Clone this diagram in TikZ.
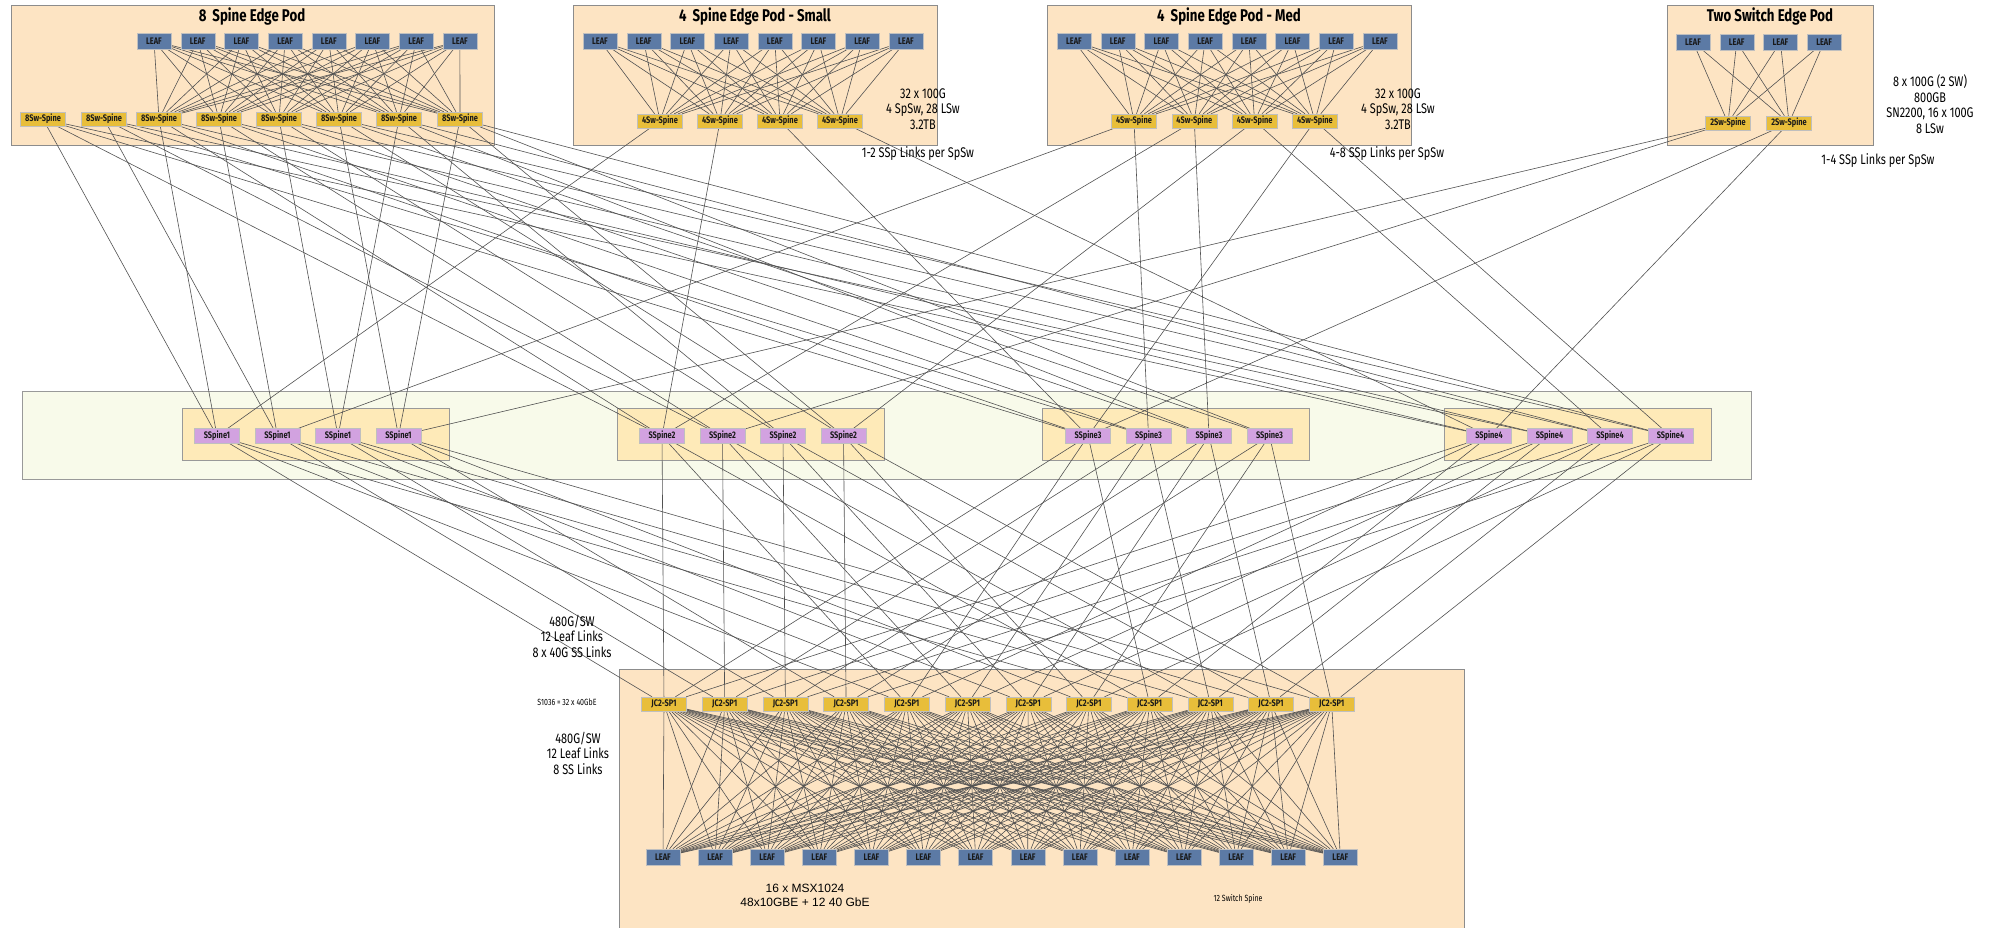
\documentclass[tikz,border=0pt]{standalone}
\usepackage{fontspec}
\setmainfont{Fira Sans}[FakeStretch=0.78]
\newfontfamily\helv{Liberation Sans}
\usetikzlibrary{shadows}
\pgfdeclarelayer{bg}
\pgfdeclarelayer{links}
\pgfsetlayers{bg,links,main}
\definecolor{podfill}{RGB}{253,228,195}
\definecolor{leafblue}{RGB}{92,122,165}
\definecolor{spinegold}{RGB}{232,190,58}
\definecolor{sspurple}{RGB}{210,162,224}
\definecolor{bandfill}{RGB}{248,250,234}
\definecolor{grpfill}{RGB}{254,234,184}
\begin{document}
\begin{tikzpicture}[x=1pt,y=-1pt, every node/.style={font=\footnotesize}]
  \tikzstyle{pod}=[draw=black!45,fill=podfill,line width=0.8pt]
  \tikzstyle{sw}=[draw=black!25,inner sep=1pt,text=black!90,
    drop shadow={shadow xshift=0.8pt,shadow yshift=-0.8pt,opacity=0.3}]
  \tikzstyle{leaf}=[sw,fill=leafblue,minimum width=34pt,minimum height=16pt,font=\fontsize{9.5}{10}\selectfont\bfseries]
  \tikzstyle{spn}=[sw,fill=spinegold,minimum width=45pt,minimum height=14pt,font=\fontsize{9.5}{10}\selectfont\bfseries]
  \tikzstyle{ssp}=[sw,fill=sspurple,minimum width=45pt,minimum height=15pt,font=\fontsize{9.5}{10}\selectfont\bfseries]
  \tikzstyle{lnk}=[draw=black!68,line width=0.6pt]
  \tikzstyle{ttl}=[font=\fontsize{17}{19}\selectfont\bfseries]
  \tikzstyle{note}=[font=\fontsize{14}{15.5}\selectfont,align=center]
  \tikzstyle{tiny}=[font=\fontsize{9}{10}\selectfont]
  \useasboundingbox (0,0) rectangle (1993,927);

  % boxes
  \begin{pgfonlayer}{bg}
    \fill[white] (0,0) rectangle (1993,927);
    \draw[pod] (11,5) rectangle (494,145);
    \draw[pod] (573,5) rectangle (937,145);
    \draw[pod] (1047,5) rectangle (1411,145);
    \draw[pod] (1667,5) rectangle (1873,145);
    \draw[draw=black!40,fill=bandfill,line width=0.8pt] (22,391) rectangle (1751,479);
    \foreach \gx in {182,617,1042,1444}
      \draw[draw=black!40,fill=grpfill,line width=0.8pt] (\gx,408) rectangle ++(267,52);
    \draw[pod] (619,669) rectangle (1464,932);
  \end{pgfonlayer}

  % 8 spine edge pod
  \node[ttl] (ta) at (252,16) {8\, Spine Edge Pod};
  \foreach \i in {1,...,8}
    \node[leaf] (aL\i) at ({154+43.7*(\i-1)},41) {LEAF};
  \foreach \x [count=\i] in {43,104,159,219,279,339,399,460}
    \node[spn] (aS\i) at (\x,119) {8Sw-Spine};

  % 4 spine edge pod - small
  \node[ttl] (tb) at (755,16) {4\, Spine Edge Pod - Small};
  \foreach \i in {1,...,8}
    \node[leaf] (bL\i) at ({600+43.7*(\i-1)},41) {LEAF};
  \foreach \i in {1,...,4}
    \node[spn] (bS\i) at ({660+60*(\i-1)},121) {4Sw-Spine};
  \node[note] (nb) at (923,109) {32 x 100G\\4 SpSw, 28 LSw\\3.2TB};
  \node[note] (lb) at (918,154) {1-2 SSp Links per SpSw};

  % 4 spine edge pod - med
  \node[ttl] (tc) at (1229,16) {4\, Spine Edge Pod - Med};
  \foreach \i in {1,...,8}
    \node[leaf] (cL\i) at ({1074+43.7*(\i-1)},41) {LEAF};
  \foreach \i in {1,...,4}
    \node[spn] (cS\i) at ({1134+60.3*(\i-1)},121) {4Sw-Spine};
  \node[note] (nc) at (1398,109) {32 x 100G\\4 SpSw, 28 LSw\\3.2TB};
  \node[note] (lc) at (1387,154) {4-8 SSp Links per SpSw};

  % two switch edge pod
  \node[ttl] (td) at (1770,16) {Two Switch Edge Pod};
  \foreach \i in {1,...,4}
    \node[leaf] (dL\i) at ({1693+43.7*(\i-1)},42) {LEAF};
  \node[spn] (dS1) at (1728,123) {2Sw-Spine};
  \node[spn] (dS2) at (1789,123) {2Sw-Spine};
  \node[note] (nd) at (1930,104) {8 x 100G (2 SW)\\800GB\\SN2200, 16 x 100G\\8 LSw};
  \node[note] (ld) at (1878,161) {1-4 SSp Links per SpSw};

  % super spines
  \foreach \gx [count=\p] in {217,662,1088,1489}
    \foreach \k in {1,...,4}
      \node[ssp] (ss\p\k) at ({\gx+60.5*(\k-1)},436) {SSpine\p};

  % 12 switch spine
  \foreach \j in {1,...,12}
    \node[spn] (jc\j) at ({664+60.7*(\j-1)},704) {JC2-SP1};
  \foreach \i in {1,...,14}
    \node[leaf] (lf\i) at ({663+52.1*(\i-1)},857) {LEAF};
  \node[note] (n1) at (572,636) {480G/SW\\12 Leaf Links\\8 x 40G SS Links};
  \node[tiny] (n2) at (567,702) {S1036 = 32 x 40GbE};
  \node[note] (n3) at (578,753) {480G/SW\\12 Leaf Links\\8 SS Links};
  \node[note,font=\helv\fontsize{12}{14}\selectfont] (n4) at (805,895) {16 x MSX1024\\48x10GBE + 12 40 GbE};
  \node[tiny] (n5) at (1238,899) {12 Switch Spine};

  \begin{pgfonlayer}{links}
    % inside the pods
    \foreach \i in {1,...,8}
      \foreach \j in {3,...,8} \draw[lnk] (aL\i) -- (aS\j);
    \foreach \i in {1,...,8}
      \foreach \j in {1,...,4} {
        \draw[lnk] (bL\i) -- (bS\j);
        \draw[lnk] (cL\i) -- (cS\j);
      }
    \foreach \i in {1,...,4}
      \foreach \j in {1,2} \draw[lnk] (dL\i) -- (dS\j);
    % pods to super spines
    \foreach \i/\m in {1/1,2/2,3/1,4/2,5/3,6/4,7/3,8/4}
      \foreach \p in {1,...,4} \draw[lnk] (aS\i) -- (ss\p\m);
    \foreach \k in {1,...,4} \draw[lnk] (bS\k) -- (ss\k1);
    \foreach \a/\b in {1/12,1/32,2/21,2/33,3/24,3/43,4/31,4/44}
      \draw[lnk] (cS\a) -- (ss\b);
    \foreach \a/\b in {1/14,1/22,2/31,2/41}
      \draw[lnk] (dS\a) -- (ss\b);
    % super spines to spine
    \foreach \j in {1,...,12}
      \foreach \p in {1,...,4} {
        \pgfmathtruncatemacro{\k}{mod(\j-1,4)+1}
        \draw[lnk] (ss\p\k) -- (jc\j);
      }
    % spine to leaf mesh
    \foreach \j in {1,...,12}
      \foreach \i in {1,...,14} \draw[lnk] (jc\j) -- (lf\i);
  \end{pgfonlayer}
\end{tikzpicture}
\end{document}
